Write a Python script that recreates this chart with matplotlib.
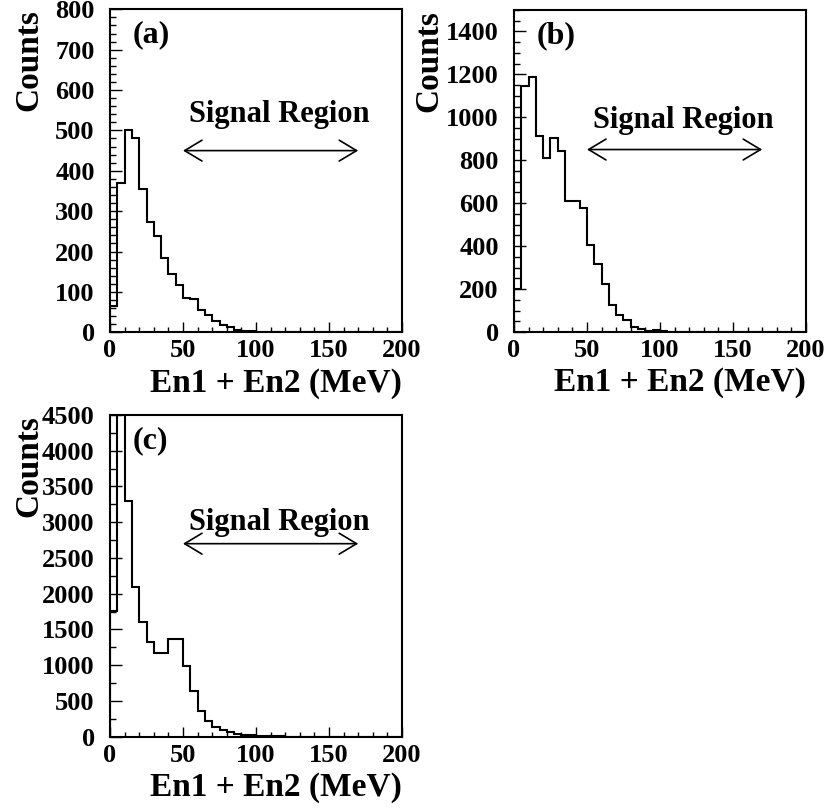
import matplotlib
matplotlib.use('Agg')
import matplotlib.pyplot as plt
import numpy as np
from matplotlib.ticker import MultipleLocator
from matplotlib.patches import FancyArrowPatch

plt.rcParams['font.family'] = ['Liberation Serif', 'DejaVu Serif']
plt.rcParams['font.weight'] = 'bold'

# ---- data ----
bin_edges = np.arange(0, 205, 5)  # 40 bins of 5 MeV, 0-200 MeV

counts_a = [65, 370, 502, 480, 356, 272, 238, 185, 144, 117,
            86, 82, 54, 42, 29, 19, 14, 6, 3, 3,
            1, 1, 1, 0, 0, 0, 0, 0, 0, 0,
            0, 0, 0, 0, 0, 0, 0, 0, 0, 0]
counts_b = [201, 1144, 1186, 912, 809, 902, 845, 612, 612, 578,
            403, 318, 225, 127, 81, 57, 21, 12, 5, 8,
            3, 2, 1, 1, 0, 0, 0, 0, 0, 0,
            0, 0, 0, 0, 0, 0, 0, 0, 0, 0]
counts_c = [1758, 6000, 3291, 2100, 1603, 1322, 1167, 1167, 1369, 1369,
            994, 642, 361, 220, 141, 89, 66, 37, 23, 19,
            10, 6, 4, 3, 2, 1, 1, 0, 0, 0,
            0, 0, 0, 0, 0, 0, 0, 0, 0, 0]

panel_labels = ['(a)', '(b)', '(c)']
y_max = [800, 1500, 4500]
y_major = [100, 200, 500]
y_minor = [20, 50, 250]
signal_lo, signal_hi = 50, 170
arrow_y = [450, 850, 2700]
text_y = [520, 950, 2890]
signal_text = 'Signal Region'
xlabel = 'En1 + En2 (MeV)'
ylabel = 'Counts'

fig = plt.figure(figsize=(8.28, 8.08), dpi=100)
W, H = 828.0, 808.0
positions = [
    (110 / W, 1 - 332.3 / H, 292 / W, 323 / H),
    (514 / W, 1 - 332.0 / H, 292 / W, 322 / H),
    (110 / W, 1 - 736.7 / H, 292 / W, 321.7 / H),
]
ylabel_x = [-0.25, -0.262, -0.25]

for i, counts in enumerate([counts_a, counts_b, counts_c]):
    ax = fig.add_axes(positions[i])
    ax.stairs(counts, bin_edges, color='black', linewidth=1.5)
    ax.set_xlim(0, 200)
    ax.set_ylim(0, y_max[i])
    ax.xaxis.set_major_locator(MultipleLocator(50))
    ax.xaxis.set_minor_locator(MultipleLocator(10))
    ax.yaxis.set_major_locator(MultipleLocator(y_major[i]))
    ax.yaxis.set_minor_locator(MultipleLocator(y_minor[i]))
    ax.tick_params(which='both', direction='in', top=False, right=False, width=1.0)
    ax.tick_params(axis='x', which='major', length=7, pad=5, labelsize=19)
    ax.tick_params(axis='x', which='minor', length=3.5)
    ax.tick_params(axis='y', which='major', length=8.5, pad=11, labelsize=19)
    ax.tick_params(axis='y', which='minor', length=4.3)
    for lab in ax.get_xticklabels() + ax.get_yticklabels():
        lab.set_fontweight('bold')
    for sp in ax.spines.values():
        sp.set_linewidth(1.5)

    # axis titles (ROOT-style, aligned to the axis ends)
    ax.text(1.0, -(391.7 - 332.3) / 323, xlabel, transform=ax.transAxes,
            ha='right', va='baseline', fontsize=24, fontweight='bold')
    ax.text(ylabel_x[i], 1.0, ylabel, transform=ax.transAxes, rotation=90,
            rotation_mode='anchor', ha='right', va='baseline',
            fontsize=24, fontweight='bold')

    # panel label
    ax.text(0.079, 0.965, panel_labels[i], transform=ax.transAxes,
            ha='left', va='top', fontsize=23, fontweight='bold')

    # signal region
    arr = FancyArrowPatch((signal_lo, arrow_y[i]), (signal_hi, arrow_y[i]),
                          arrowstyle='<->,head_length=1.25,head_width=0.75',
                          mutation_scale=10, color='black', linewidth=1.2,
                          shrinkA=0, shrinkB=0)
    ax.add_patch(arr)
    ax.text(116, text_y[i], signal_text, ha='center', va='baseline',
            fontsize=22, fontweight='bold')

fig.savefig('out.png', dpi=100)
